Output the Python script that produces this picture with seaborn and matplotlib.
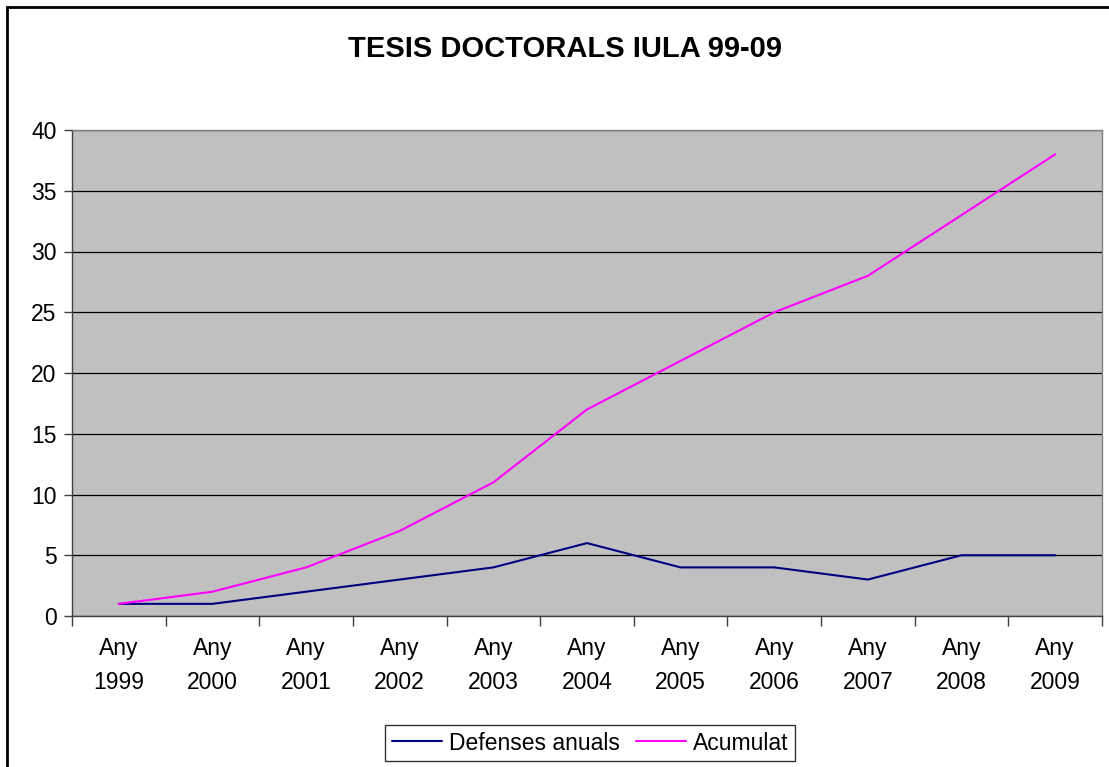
import seaborn as sns
import pandas as pd
import matplotlib.pyplot as plt
import matplotlib.patches as patches

# dades del gràfic
anys = ["Any\n1999", "Any\n2000", "Any\n2001", "Any\n2002", "Any\n2003", "Any\n2004",
        "Any\n2005", "Any\n2006", "Any\n2007", "Any\n2008", "Any\n2009"]
defenses = [1, 1, 2, 3, 4, 6, 4, 4, 3, 5, 5]
acumulat = [1, 2, 4, 7, 11, 17, 21, 25, 28, 33, 38]
series = ["Defenses anuals", "Acumulat"]
colors = {"Defenses anuals": "#000080", "Acumulat": "#FF00FF"}

df = pd.DataFrame({
    "pos": list(range(len(anys))) * 2,
    "valor": defenses + acumulat,
    "serie": [series[0]] * len(anys) + [series[1]] * len(anys),
})

sns.set_style("white")
plt.rcParams['font.family'] = ['Liberation Sans', 'DejaVu Sans']
plt.rcParams['text.color'] = 'black'
plt.rcParams['xtick.color'] = 'black'
plt.rcParams['ytick.color'] = 'black'

fig = plt.figure(figsize=(11.09, 7.67), dpi=100)
ax = fig.add_axes([72 / 1109, 1 - 616 / 767, (1102 - 72) / 1109, (616 - 130) / 767])
ax.set_facecolor("#C0C0C0")

sns.lineplot(data=df, x="pos", y="valor", hue="serie", palette=colors,
             linewidth=1.5, ax=ax, legend=False, zorder=3)

ax.set_xlim(-0.5, len(anys) - 0.5)
ax.set_ylim(0, 40)
ax.set_yticks(range(0, 41, 5))
ax.yaxis.grid(True, color="black", linewidth=0.9)
ax.set_axisbelow(True)

ax.set_xticks(range(len(anys)))
ax.set_xticklabels(anys, linespacing=1.6)
ax.set_xticks([i - 0.5 for i in range(len(anys) + 1)], minor=True)
ax.tick_params(axis="x", which="major", bottom=True, length=0, pad=15, labelsize=16.5)
ax.tick_params(axis="x", which="minor", bottom=True, length=7, width=1, color="#404040",
               direction="out")
ax.tick_params(axis="y", left=True, length=6, width=1, color="#404040", direction="out",
               labelsize=16.5, pad=5)
ax.set_xlabel("")
ax.set_ylabel("")

for side in ["top", "right"]:
    ax.spines[side].set_color("#808080")
for side in ["left", "bottom"]:
    ax.spines[side].set_color("#404040")
for s in ax.spines.values():
    s.set_linewidth(1)

fig.text(565 / 1109, 1 - 49 / 767, "TESIS DOCTORALS IULA 99-09", ha="center", va="center",
         fontsize=21, fontweight="bold")

handles = [plt.Line2D([], [], color=colors[s], linewidth=1.5) for s in series]
leg = fig.legend(handles, series, loc="center", bbox_to_anchor=(590 / 1109, 1 - 743 / 767),
                 ncol=2, frameon=True, fancybox=False, fontsize=16.5, handlelength=2.2,
                 handletextpad=0.3, columnspacing=0.7, borderpad=0.3)
leg.get_frame().set_edgecolor("black")
leg.get_frame().set_linewidth(1)

# marc exterior del gràfic
fig.patches.append(patches.Rectangle((7 / 1109, -0.1), 1.2, 1 - 7 / 767 + 0.1,
                                     transform=fig.transFigure, fill=False,
                                     edgecolor="black", linewidth=2))

fig.savefig("out.png", dpi=100)
